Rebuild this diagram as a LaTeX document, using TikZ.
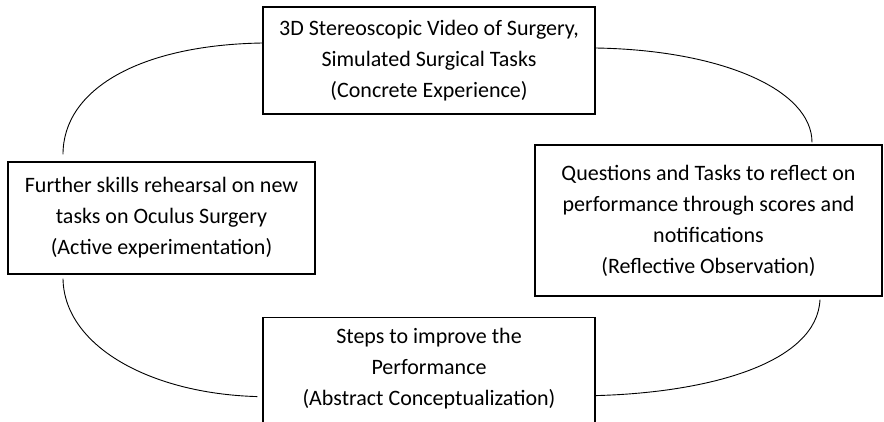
\documentclass[tikz,border=0pt]{standalone}
\usepackage{fontspec}
\setmainfont{Carlito}
\begin{document}
\begin{tikzpicture}[x=1pt,y=-1pt,
  box/.style={draw, line width=1.2pt, align=center, inner sep=0pt, font=\fontsize{22}{31}\selectfont},
  txt/.style={align=center, inner sep=0pt, font=\fontsize{22}{31}\selectfont},
  link/.style={line width=0.9pt}]
\useasboundingbox (0,0) rectangle (884,422);
\node[box, minimum width=332, minimum height=107] (ce) at (429,60.5)
  {3D Stereoscopic Video of Surgery,\\Simulated Surgical Tasks\\(Concrete Experience)};
\node[box, minimum width=307, minimum height=112] (ae) at (161.5,218)
  {Further skills rehearsal on new\\tasks on Oculus Surgery\\(Active experimentation)};
\node[box, minimum width=347, minimum height=151] (ro) at (708.5,220.5)
  {Questions and Tasks to reflect on\\performance through scores and\\notifications\\(Reflective Observation)};
\node[box, minimum width=332, minimum height=130, anchor=north] (ac) at (429,317) {};
\node[txt] (actext) at (429,369)
  {Steps to improve the\\Performance\\(Abstract Conceptualization)};
% connectors
\coordinate (c1s) at ([yshift=17.5pt]ce.west);
\coordinate (c1e) at ([xshift=-98.5pt,yshift=7pt]ae.north);
\coordinate (c2s) at ([yshift=12.5pt]ce.east);
\coordinate (c2e) at ([xshift=103.5pt,yshift=2pt]ro.north);
\coordinate (c3s) at ([xshift=-98.5pt,yshift=-4pt]ae.south);
\coordinate (c3e) at ([xshift=-5pt,yshift=-14pt]ac.west);
\coordinate (c4s) at ([xshift=111.5pt,yshift=-3pt]ro.south);
\coordinate (c4e) at ([yshift=-13pt]ac.east);
\draw[link] (c1s) .. controls ++(-123,2) and ++(0,-65) .. (c1e);
\draw[link] (c2s) .. controls ++(125,2) and ++(0,-53) .. (c2e);
\draw[link] (c3s) .. controls ++(1,67) and ++(-108,-3) .. (c3e);
\draw[link] (c4s) .. controls ++(-3,63) and ++(115,-3) .. (c4e);
\end{tikzpicture}
\end{document}
